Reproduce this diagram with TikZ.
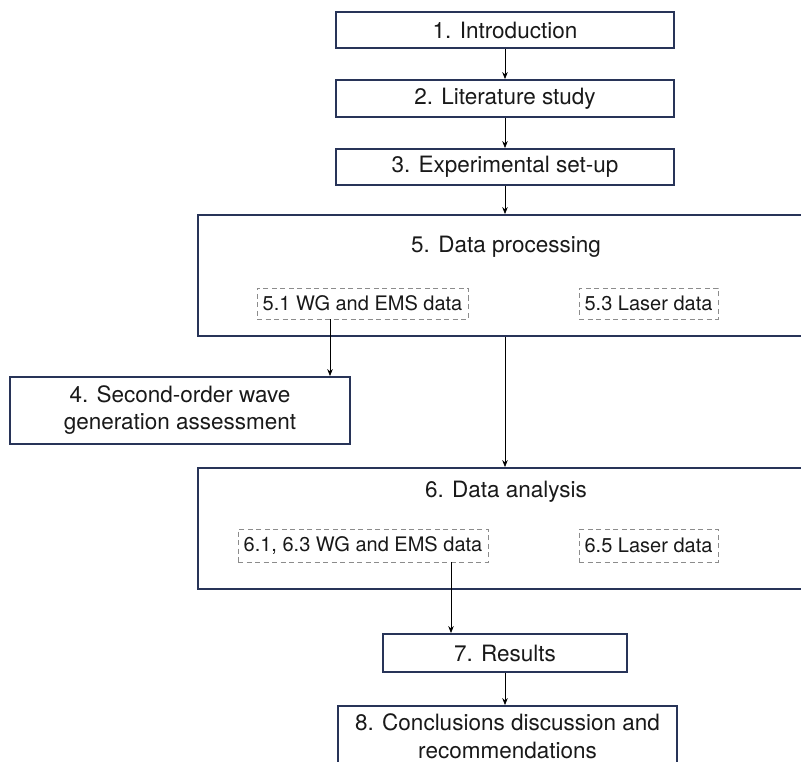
\documentclass[tikz,border=0pt]{standalone}
\usepackage{fontspec}
\setmainfont{TeX Gyre Heros}
\usetikzlibrary{arrows.meta}
\definecolor{boxline}{RGB}{40,52,88}
\definecolor{txt}{RGB}{25,25,25}
\definecolor{dashgray}{RGB}{140,140,140}
\tikzset{
  mainbox/.style={draw=boxline, line width=1.8pt, fill=white, inner sep=0pt, text=txt,
    font=\fontsize{22.5}{27}\selectfont, align=center},
  bigbox/.style={draw=boxline, line width=1.8pt, fill=white, inner sep=0pt},
  titletext/.style={text=txt, font=\fontsize{22.5}{27}\selectfont, inner sep=0pt},
  subbox/.style={draw=dashgray, line width=0.8pt, dash pattern=on 5pt off 3.5pt,
    inner sep=0pt, text=txt, font=\fontsize{20}{24}\selectfont},
  arr/.style={draw=black, line width=0.8pt, -{Stealth[length=7pt,width=5.5pt]}}
}
\begin{document}
\begin{tikzpicture}[x=1pt,y=-1pt]
\useasboundingbox (0,0) rectangle (801,762);
\fill[white] (0,0) rectangle (801,762);
% top chain
\node[mainbox, minimum width=338pt, minimum height=36pt] (n1) at (505,30) {1. Introduction};
\node[mainbox, minimum width=338pt, minimum height=37pt] (n2) at (505,98.5) {2. Literature study};
\node[mainbox, minimum width=338pt, minimum height=36pt] (n3) at (505,167) {3. Experimental set-up};
% box 5
\node[bigbox, minimum width=614pt, minimum height=121pt] (n5) at (505,275.5) {};
\node[titletext] (t5) at (506,247) {5. Data processing};
\node[subbox, minimum width=211pt, minimum height=31pt] (n51) at (362.5,303.5) {5.1 WG and EMS data};
\node[subbox, minimum width=139pt, minimum height=31pt] (n53) at (648.5,303.5) {5.3 Laser data};
% box 4
\node[mainbox, minimum width=340pt, minimum height=67pt] (n4) at (180,410.5) {4. Second-order wave\\generation assessment};
% box 6
\node[bigbox, minimum width=614pt, minimum height=121pt] (n6) at (505,528.5) {};
\node[titletext] (t6) at (506,492) {6. Data analysis};
\node[subbox, minimum width=250pt, minimum height=33pt] (n61) at (363,545.5) {6.1, 6.3 WG and EMS data};
\node[subbox, minimum width=139pt, minimum height=33pt] (n65) at (648.5,545.5) {6.5 Laser data};
% box 7
\node[mainbox, minimum width=244pt, minimum height=38pt] (n7) at (505,653) {7. Results};
% box 8
\node[bigbox, minimum width=339pt, minimum height=70pt] (n8) at (507.5,741) {};
\node[titletext, align=center, font=\fontsize{22.5}{28}\selectfont, anchor=north] (t8) at (507.5,713) {8. Conclusions discussion and\\recommendations};
% connectors
\draw[arr] (n1.south) -- (n2.north);
\draw[arr] (n2.south) -- (n3.north);
\draw[arr] (n3.south) -- (n5.north);
\draw[arr] (n51.south -| 330,0) -- (n4.north -| 330,0);
\draw[arr] (n5.south) -- (n6.north);
\draw[arr] (n61.south -| 451,0) -- (n7.north -| 451,0);
\draw[arr] (n7.south) -- (n8.north -| n7.south);
\end{tikzpicture}
\end{document}
